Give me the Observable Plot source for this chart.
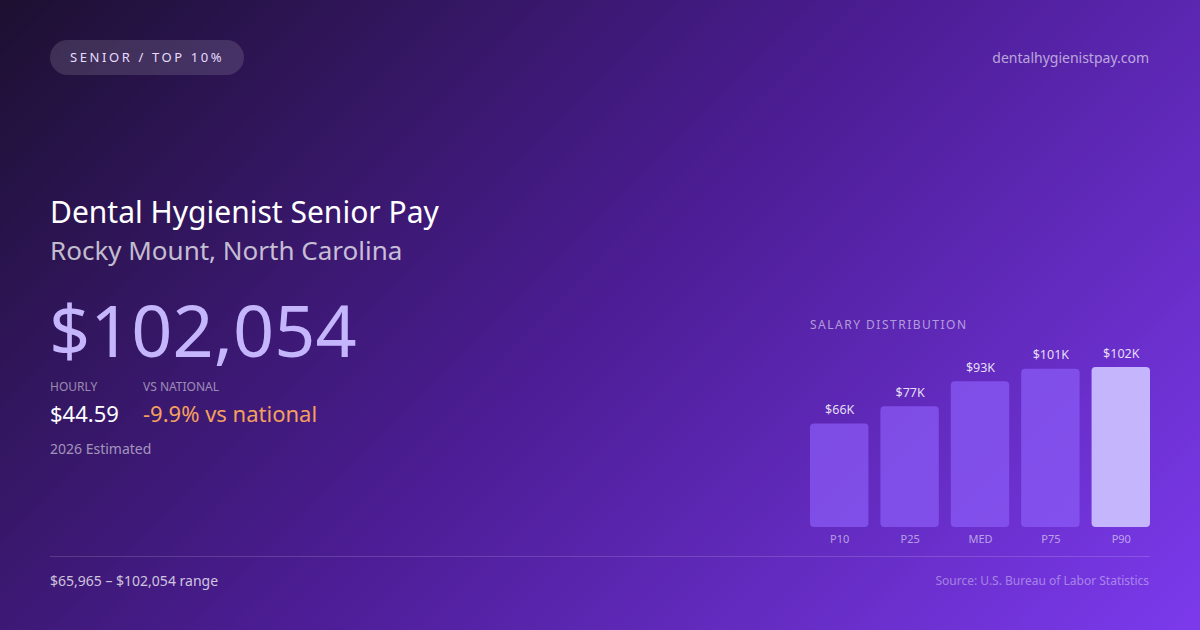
<!DOCTYPE html>
<html>
<head>
<meta charset="utf-8">
<script src="https://cdn.jsdelivr.net/npm/d3@7"></script>
<script src="https://cdn.jsdelivr.net/npm/@observablehq/plot@0.6"></script>
<style>
  html, body { margin: 0; padding: 0; }
  body {
    width: 1200px; height: 630px; overflow: hidden; position: relative;
    font-family: "Noto Sans", "Open Sans", sans-serif;
    background: linear-gradient(135deg, #1c1030 0%, #4c1d95 50%, #7c3aed 100%);
    color: #fff;
  }
  .abs { position: absolute; line-height: 1; white-space: nowrap; }
  .badge {
    left: 50px; top: 40px; height: 35px; padding: 0 20px; border-radius: 18px;
    background: rgba(255,255,255,0.13); font-size: 13px; letter-spacing: 2.6px;
    color: #e6dcff; display: flex; align-items: center;
  }
  #chart { position: absolute; left: 810px; top: 340px; }
  #chart svg { overflow: visible; }
</style>
</head>
<body>
<div class="abs badge">SENIOR / TOP 10%</div>
<div class="abs" style="right:51px; top:51px; font-size:14px; color:rgba(255,255,255,0.6);">dentalhygienistpay.com</div>

<div class="abs" style="left:50px; top:197px; font-size:30px; color:#fff;">Dental Hygienist Senior Pay</div>
<div class="abs" style="left:50px; top:237px; font-size:26px; color:rgba(255,255,255,0.72);">Rocky Mount, North Carolina</div>
<div class="abs" style="left:49px; top:293px; font-size:72px; color:#c4b5fd;">$102,054</div>

<div class="abs" style="left:50px; top:381px; font-size:12px; color:rgba(255,255,255,0.5);">HOURLY</div>
<div class="abs" style="left:143px; top:381px; font-size:12px; color:rgba(255,255,255,0.5);">VS NATIONAL</div>
<div class="abs" style="left:50px; top:402px; font-size:22px; color:#fff;">$44.59</div>
<div class="abs" style="left:143px; top:402px; font-size:22px; color:#f6a05e;">-9.9% vs national</div>
<div class="abs" style="left:50px; top:442px; font-size:14px; color:rgba(255,255,255,0.55);">2026 Estimated</div>

<div class="abs" style="left:810px; top:319px; font-size:12px; letter-spacing:1.5px; color:rgba(255,255,255,0.55);">SALARY DISTRIBUTION</div>
<div id="chart"></div>

<div class="abs" style="left:50px; top:556px; width:1100px; height:1px; background:rgba(255,255,255,0.15);"></div>
<div class="abs" style="left:50px; top:574px; font-size:14px; color:rgba(255,255,255,0.75);">$65,965 – $102,054 range</div>
<div class="abs" style="right:51px; top:575px; font-size:12px; color:rgba(255,255,255,0.4);">Source: U.S. Bureau of Labor Statistics</div>

<script>
const categories = ["P10", "P25", "MED", "P75", "P90"];
const salaries = [65965, 77000, 93000, 101000, 102054];
const valueLabels = ["$66K", "$77K", "$93K", "$101K", "$102K"];

const data = categories.map((c, i) => ({cat: c, value: salaries[i], label: valueLabels[i], top: c === "P90"}));

const chart = Plot.plot({
  width: 340,
  height: 220,
  marginTop: 27,
  marginBottom: 33,
  marginLeft: 0,
  marginRight: 0,
  style: {background: "transparent", fontFamily: "Noto Sans, sans-serif", overflow: "visible"},
  x: {domain: categories, paddingInner: 0.17, paddingOuter: 0, round: false, label: null},
  y: {domain: [0, 102054], axis: null},
  marks: [
    Plot.barY(data, {x: "cat", y: "value", rx: 4, fill: d => d.top ? "#c4b5fd" : "#8b5cf6", fillOpacity: d => d.top ? 1 : 0.72}),
    Plot.text(data, {x: "cat", y: "value", text: "label", dy: -14, fill: "rgba(255,255,255,0.85)", fontSize: 12.5}),
    Plot.axisX({tickSize: 0, tickPadding: 8, fontSize: 11, color: "rgba(255,255,255,0.55)", label: null})
  ]
});
document.getElementById("chart").appendChild(chart);
</script>
</body>
</html>
